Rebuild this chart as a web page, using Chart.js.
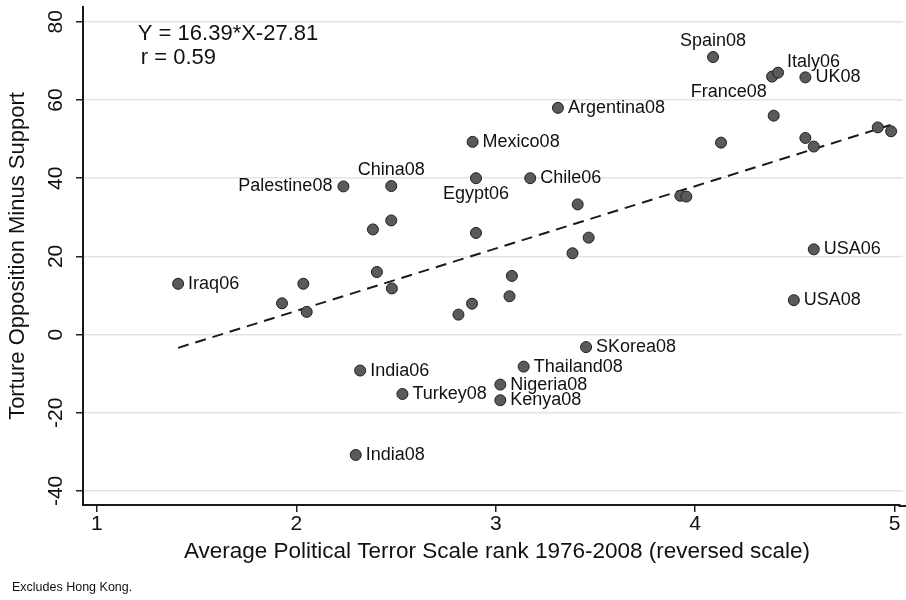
<!DOCTYPE html>
<html>
<head>
<meta charset="utf-8">
<script src="https://cdn.jsdelivr.net/npm/chart.js@4/dist/chart.umd.min.js"></script>
<style>
  html, body { margin: 0; padding: 0; background: #fff; }
  #wrap { width: 906px; height: 600px; }
</style>
</head>
<body>
<div id="wrap"><canvas id="grafico" width="906" height="600"></canvas></div>
<script>
// country labels ('' = unlabelled point)
const names = [
  "Iraq06", "", "", "", "", "", "", "",
  "India06", "Turkey08", "India08",
  "Palestine08", "China08", "", "",
  "Mexico08", "Egypt06", "",
  "Argentina08", "Chile06", "", "", "",
  "Spain08", "", "", "",
  "France08", "", "Italy06", "UK08",
  "", "", "", "",
  "USA06", "USA08", "", "",
  "SKorea08", "Thailand08", "Nigeria08", "Kenya08"
];
// average PTS rank (reversed)
const ptsRank = [
  1.407, 1.928, 2.035, 2.052, 2.404, 2.479, 2.813, 2.881,
  2.320, 2.532, 2.298,
  2.236, 2.476, 2.384, 2.476,
  2.884, 2.901, 2.901,
  3.312, 3.173, 3.411, 3.466, 3.385,
  4.090, 3.926, 3.956, 4.130,
  4.394, 4.386, 4.416, 4.553,
  4.553, 4.595, 4.916, 4.983,
  4.595, 4.495, 3.081, 3.069,
  3.453, 3.140, 3.023, 3.023
];
// torture opposition minus support
const oppMinusSup = [
  13, 8, 13, 5.8, 16, 11.8, 5.1, 7.9,
  -9.2, -15.2, -30.8,
  37.9, 38, 26.9, 29.2,
  49.3, 40, 26,
  58, 40, 33.3, 24.8, 20.8,
  71, 35.5, 35.3, 49.1,
  56, 66, 67, 65.8,
  50.3, 48.1, 53, 52,
  21.8, 8.8, 15, 9.8,
  -3.2, -8.2, -12.8, -16.8
];
// fitted line end points
const fitX = [1.407, 4.98];
const fitY = [-3.4, 53.6];

const xTicks = [1, 2, 3, 4, 5];
const yTicks = [-40, -20, 0, 20, 40, 60, 80];

const FONT = "'Liberation Sans', Arial, Helvetica, sans-serif";

// where each label sits relative to its marker
const labelPos = {
  "Palestine08": "l", "China08": "t", "Spain08": "t",
  "Egypt06": "b", "Italy06": "tr", "France08": "tl"
};

const puntos = ptsRank.map((x, i) => ({ x: x, y: oppMinusSup[i] }));
const linea = fitX.map((x, i) => ({ x: x, y: fitY[i] }));

const etiquetas = {
  id: "etiquetas",
  beforeDatasetsDraw(chart) {
    // Stata runs the grid and the x axis up to the right edge
    const ctx = chart.ctx;
    const area = chart.chartArea;
    const ys = chart.scales.y;
    ctx.save();
    ctx.strokeStyle = "#e4e4e4";
    ctx.lineWidth = 1.5;
    yTicks.forEach(v => {
      const py = ys.getPixelForValue(v);
      ctx.beginPath();
      ctx.moveTo(area.right - 1, py);
      ctx.lineTo(903, py);
      ctx.stroke();
    });
    ctx.strokeStyle = "#1a1a1a";
    ctx.lineWidth = 2;
    ctx.beginPath();
    ctx.moveTo(area.right - 1, area.bottom + 1);
    ctx.lineTo(906, area.bottom + 1);
    ctx.stroke();
    ctx.restore();
  },
  afterDraw(chart) {
    const ctx = chart.ctx;
    const xs = chart.scales.x, ys = chart.scales.y;
    ctx.save();
    ctx.fillStyle = "#111";
    ctx.textBaseline = "middle";

    // y tick labels, rotated like Stata
    ctx.font = "21px " + FONT;
    ctx.textAlign = "center";
    yTicks.forEach(v => {
      ctx.save();
      ctx.translate(56, ys.getPixelForValue(v));
      ctx.rotate(-Math.PI / 2);
      ctx.fillText(String(v), 0, 0);
      ctx.restore();
    });

    // x axis title
    ctx.font = "22.5px " + FONT;
    ctx.fillText("Average Political Terror Scale rank 1976-2008 (reversed scale)", 497, 552);

    // point labels
    const meta = chart.getDatasetMeta(1);
    ctx.font = "18px " + FONT;
    meta.data.forEach((pt, i) => {
      const name = names[i];
      if (!name) return;
      const pos = labelPos[name] || "r";
      let dx = 10, dy = 0, align = "left";
      if (pos === "l") { dx = -11; align = "right"; }
      if (pos === "t") { dx = 0; dy = -16; align = "center"; }
      if (pos === "b") { dx = 0; dy = 16; align = "center"; }
      if (pos === "tr") { dx = 9; dy = -11; align = "left"; }
      if (pos === "tl") { dx = -7; dy = -24; align = "right"; }
      ctx.textAlign = align;
      ctx.fillText(name, pt.x + dx, pt.y + dy);
    });

    // equation text
    ctx.font = "22px " + FONT;
    ctx.textAlign = "left";
    ctx.fillText("Y = 16.39*X-27.81", xs.getPixelForValue(1.205), ys.getPixelForValue(76.9));
    ctx.fillText("r = 0.59", xs.getPixelForValue(1.22), ys.getPixelForValue(70.7));

    // note
    ctx.font = "12.5px " + FONT;
    ctx.fillText("Excludes Hong Kong.", 12, 588);
    ctx.restore();
  }
};

new Chart(document.getElementById("grafico"), {
  type: "scatter",
  data: {
    datasets: [
      {
        type: "line",
        data: linea,
        borderColor: "#1a1a1a",
        borderWidth: 2,
        borderDash: [11, 7],
        pointRadius: 0,
        fill: false,
        order: 2
      },
      {
        data: puntos,
        backgroundColor: "#5a5a5a",
        borderColor: "#1e1e1e",
        borderWidth: 1,
        pointRadius: 5.5,
        order: 1
      }
    ]
  },
  options: {
    responsive: false,
    animation: false,
    devicePixelRatio: 1,
    layout: { padding: { top: 7, right: 0, left: 0, bottom: 35 } },
    plugins: {
      legend: { display: false },
      tooltip: { enabled: false }
    },
    scales: {
      x: {
        type: "linear",
        min: 0.93,
        max: 5.025,
        afterBuildTicks: (s) => { s.ticks = xTicks.map(v => ({ value: v })); },
        afterFit: (s) => { s.height = 60; s.paddingLeft = 0; s.paddingRight = 0; },
        grid: { drawOnChartArea: false, drawTicks: true, tickLength: 7, tickColor: "#222", lineWidth: 1.5 },
        border: { display: true, color: "#1a1a1a", width: 2 },
        ticks: { color: "#111", font: { size: 21, family: FONT }, padding: 0 },
        title: { display: false }
      },
      y: {
        type: "linear",
        min: -43.6,
        max: 83.8,
        afterBuildTicks: (s) => { s.ticks = yTicks.map(v => ({ value: v })); },
        afterFit: (s) => { s.width = 83; s.paddingTop = 0; s.paddingBottom = 0; },
        grid: { color: "#e4e4e4", lineWidth: 1.5, drawTicks: true, tickLength: 7, tickColor: "#222" },
        border: { display: true, color: "#1a1a1a", width: 2 },
        ticks: { display: false },
        title: {
          display: true,
          text: "Torture Opposition Minus Support",
          color: "#111",
          font: { size: 22, family: FONT },
          padding: { top: 5, bottom: 0 }
        }
      }
    }
  },
  plugins: [etiquetas]
});
</script>
</body>
</html>
